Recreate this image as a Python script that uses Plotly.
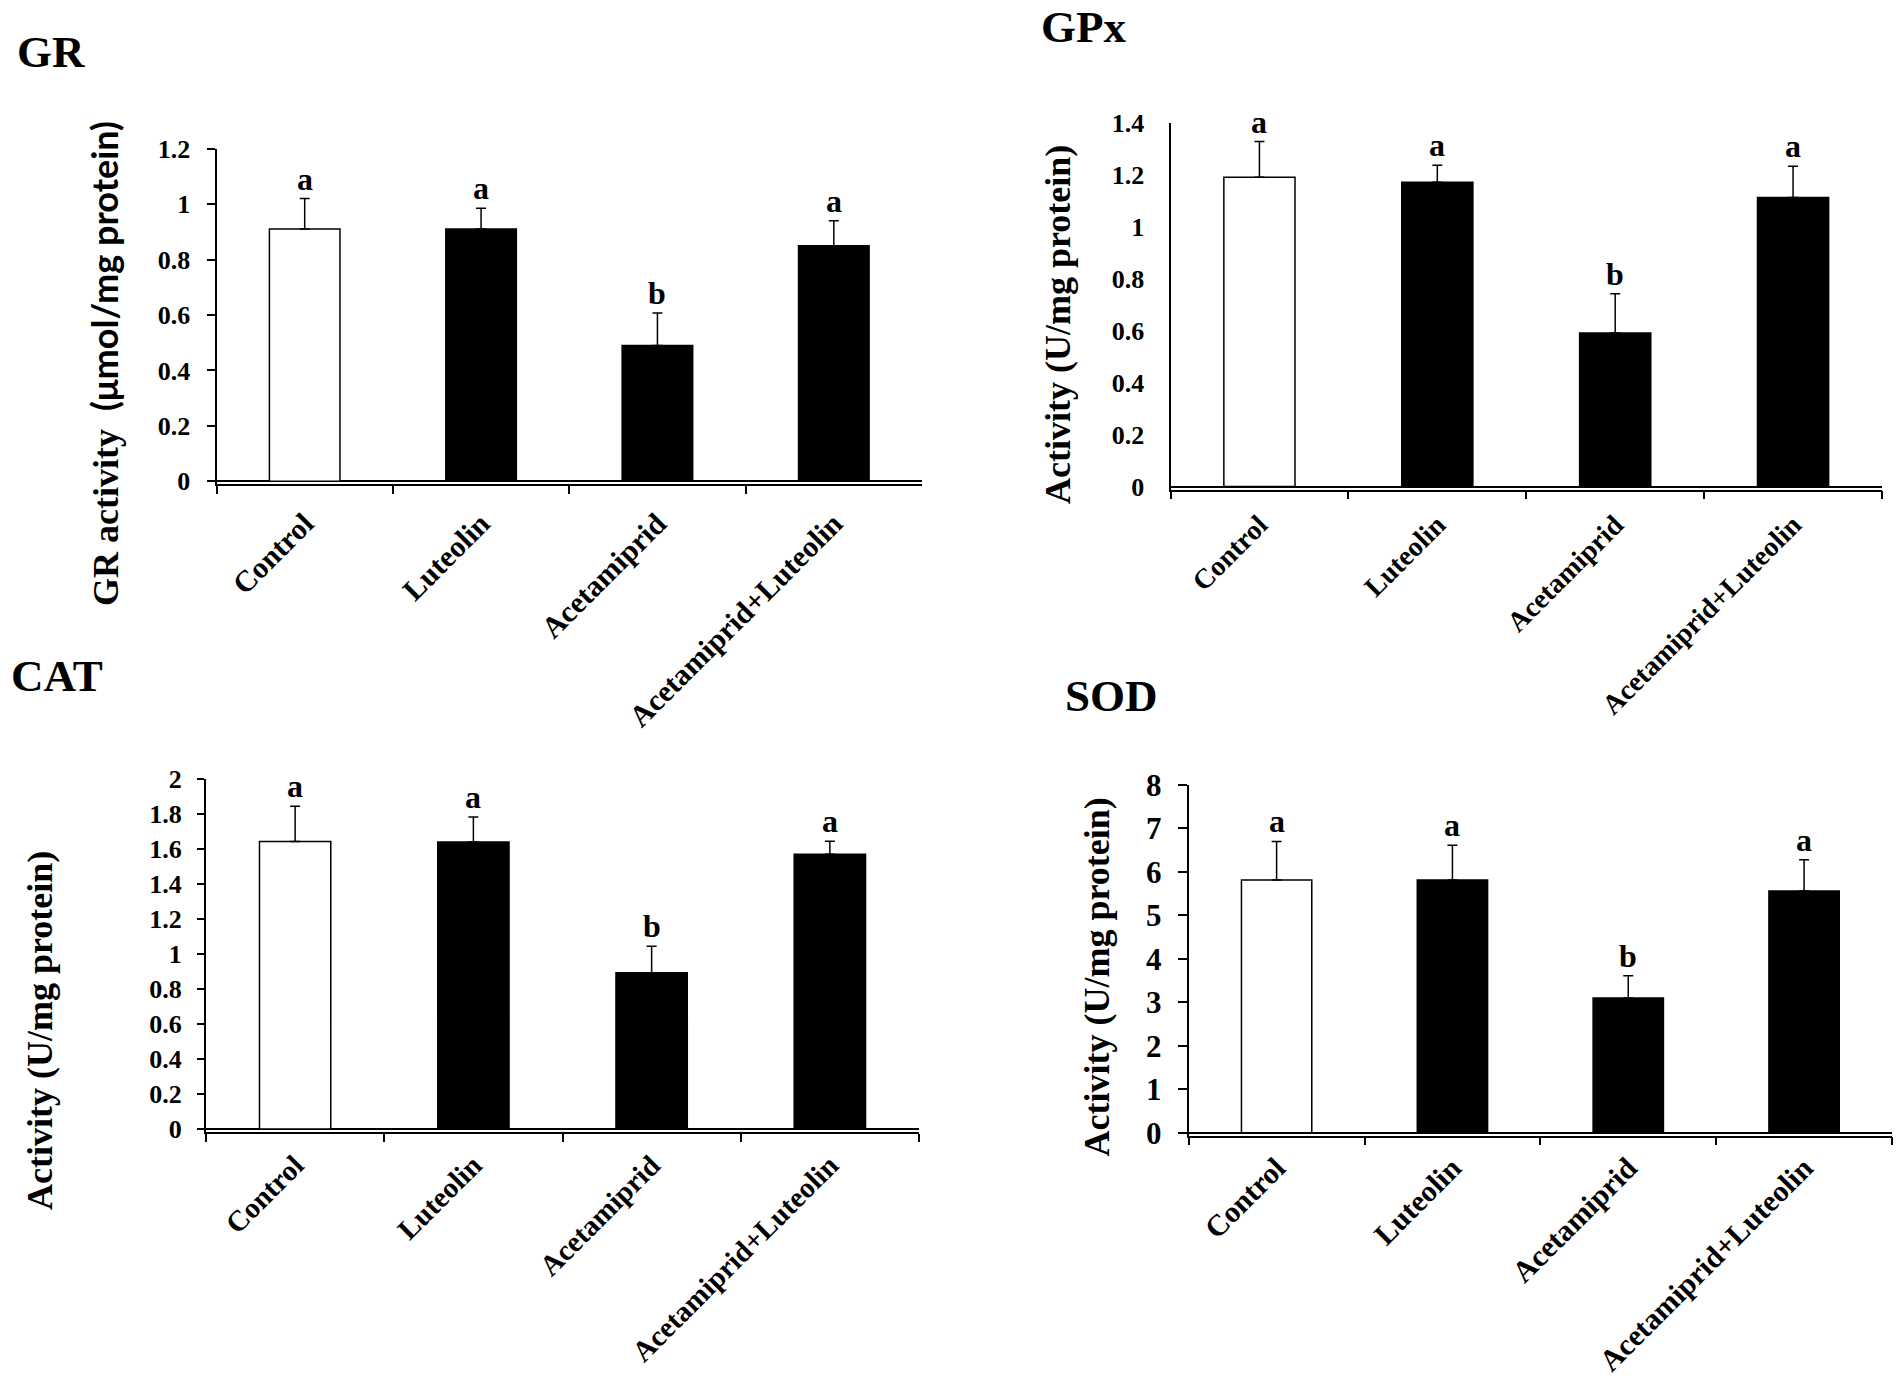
import plotly.graph_objects as go

W, H = 1902, 1392
SERIF = "Liberation Serif, Times New Roman, serif"
SANS = "Lato, Open Sans, sans-serif"

groups = ["Control", "Luteolin", "Acetamiprid", "Acetamiprid+Luteolin"]
letters = ["a", "a", "b", "a"]
bar_colors = ["white", "black", "black", "black"]

gr_mean = [0.91, 0.91, 0.49, 0.85]
gr_sd = [0.11, 0.075, 0.117, 0.09]
gpx_mean = [1.19, 1.171, 0.591, 1.113]
gpx_sd = [0.138, 0.066, 0.151, 0.12]
cat_mean = [1.641, 1.638, 0.892, 1.568]
cat_sd = [0.202, 0.143, 0.151, 0.075]
sod_mean = [5.81, 5.81, 3.10, 5.56]
sod_sd = [0.89, 0.80, 0.51, 0.72]

gr_ticks = [0, 0.2, 0.4, 0.6, 0.8, 1, 1.2]
gpx_ticks = [0, 0.2, 0.4, 0.6, 0.8, 1, 1.2, 1.4]
cat_ticks = [0, 0.2, 0.4, 0.6, 0.8, 1, 1.2, 1.4, 1.6, 1.8, 2]
sod_ticks = [0, 1, 2, 3, 4, 5, 6, 7, 8]

GAP = 3  # px between zero line and x axis line

# layout of each panel in page pixels
panels = [
    dict(name="GR", mean=gr_mean, sd=gr_sd, ticks=gr_ticks,
         x0=216.5, x1=922, ytop=148.7, yzero=481.3,
         ticklen=8, tickfs=26, ystand=11, labfs=30, xstand=8,
         title_xy=(15, 52), ylab_xy=(104, 364),
         ylab="GR activity&nbsp;&nbsp;<span style='font-family:" + SANS + "'>(μmol/mg protein)</span>"),
    dict(name="GPx", mean=gpx_mean, sd=gpx_sd, ticks=gpx_ticks,
         x0=1170.5, x1=1882, ytop=122.8, yzero=486.6,
         ticklen=0, tickfs=26, ystand=19, labfs=28, xstand=6,
         title_xy=(1039, 27), ylab_xy=(1058, 325),
         ylab="Activity (U/mg protein)"),
    dict(name="CAT", mean=cat_mean, sd=cat_sd, ticks=cat_ticks,
         x0=206, x1=919, ytop=778.7, yzero=1129,
         ticklen=7, tickfs=26, ystand=10, labfs=29, xstand=3,
         title_xy=(9, 676), ylab_xy=(40, 1031),
         ylab="Activity (U/mg protein)"),
    dict(name="SOD", mean=sod_mean, sd=sod_sd, ticks=sod_ticks,
         x0=1188.7, x1=1892, ytop=784.9, yzero=1132.7,
         ticklen=9, tickfs=31, ystand=10, labfs=30, xstand=1,
         title_xy=(1063, 696), ylab_xy=(1096.5, 977),
         ylab="Activity (U/mg protein)"),
]


def add_panel(fig, i, p):
    xa = "x" if i == 0 else f"x{i + 1}"
    ya = "y" if i == 0 else f"y{i + 1}"
    top = p["ticks"][-1]
    span_px = p["yzero"] - p["ytop"]
    ymin = -top * GAP / span_px

    fig.add_bar(
        x=groups, y=p["mean"], xaxis=xa, yaxis=ya,
        width=0.4,
        marker=dict(color=bar_colors, line=dict(color="black", width=1.5)),
        error_y=dict(type="data", symmetric=False, array=p["sd"],
                     arrayminus=[0] * len(p["sd"]),
                     color="black", thickness=1.5, width=5),
        showlegend=False,
    )

    for g, m, s, lt in zip(groups, p["mean"], p["sd"], letters):
        fig.add_annotation(x=g, y=m + s, xref=xa, yref=ya, text=lt,
                           showarrow=False, yanchor="bottom", yshift=0,
                           font=dict(family=SERIF, size=32, color="black", weight="bold"))

    xkey = "xaxis" if i == 0 else f"xaxis{i + 1}"
    ykey = "yaxis" if i == 0 else f"yaxis{i + 1}"
    fig.update_layout({
        xkey: dict(
            domain=[p["x0"] / W, p["x1"] / W], anchor=ya, automargin=False,
            range=[-0.5, 3.5], showline=True, linecolor="black", linewidth=1.5,
            ticks="outside", tickson="boundaries", ticklen=8, tickwidth=2,
            tickcolor="black", tickangle=-45, ticklabelstandoff=p["xstand"],
            tickfont=dict(family=SERIF, size=p["labfs"], color="black", weight="bold"),
            showgrid=False, zeroline=False, fixedrange=True,
        ),
        ykey: dict(
            domain=[1 - (p["yzero"] + GAP) / H, 1 - p["ytop"] / H], anchor=xa,
            automargin=False,
            range=[ymin, top], tickmode="array", tickvals=p["ticks"],
            showline=True, linecolor="black", linewidth=2,
            ticks="outside" if p["ticklen"] else "", ticklen=p["ticklen"],
            tickwidth=2, tickcolor="black", ticklabelstandoff=p["ystand"],
            tickfont=dict(family=SERIF, size=p["tickfs"], color="black", weight="bold"),
            showgrid=False, zeroline=True, zerolinecolor="black", zerolinewidth=1.5,
            fixedrange=True,
        ),
    })

    tx, ty = p["title_xy"]
    fig.add_annotation(x=tx / W, y=1 - ty / H, xref="paper", yref="paper",
                       text=p["name"], showarrow=False, xanchor="left", yanchor="middle",
                       font=dict(family=SERIF, size=45, color="black", weight="bold"))
    lx, ly = p["ylab_xy"]
    fig.add_annotation(x=lx / W, y=1 - ly / H, xref="paper", yref="paper",
                       text=p["ylab"], showarrow=False, textangle=-90,
                       xanchor="center", yanchor="middle",
                       font=dict(family=SERIF, size=36, color="black", weight="bold"))


fig = go.Figure()
for i, p in enumerate(panels):
    add_panel(fig, i, p)

fig.update_layout(
    width=W, height=H, margin=dict(l=0, r=0, t=0, b=0, autoexpand=False),
    paper_bgcolor="white", plot_bgcolor="white", bargap=0.6,
)

fig.write_html("out.html", config={"displayModeBar": False},
               post_script="document.body.style.margin='0';")
